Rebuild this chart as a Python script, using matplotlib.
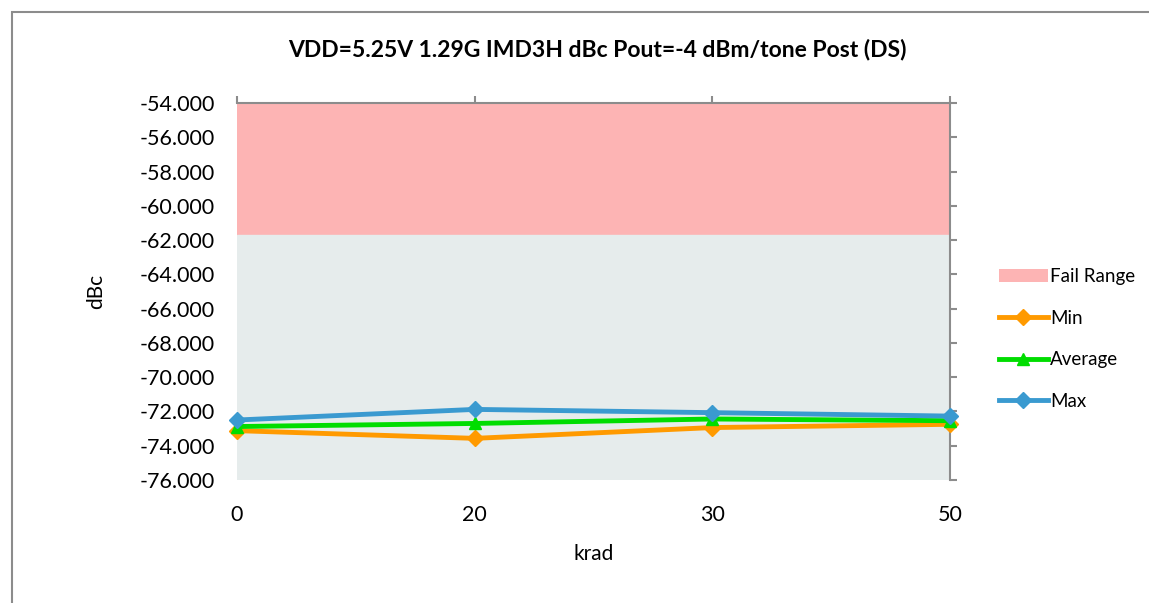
import matplotlib
matplotlib.use("Agg")
import matplotlib.pyplot as plt
from matplotlib.patches import Patch, Rectangle
from matplotlib.lines import Line2D
from matplotlib.ticker import FormatStrFormatter

plt.rcParams['font.family'] = ['Lato', 'DejaVu Sans']

krad = ["0", "20", "30", "50"]
min_vals = [-73.12, -73.57, -72.94, -72.75]
avg_vals = [-72.88, -72.70, -72.44, -72.54]
max_vals = [-72.50, -71.88, -72.07, -72.27]
fail_limit = -61.7
y_lo, y_hi = -76.0, -54.0

W, H = 1149, 603
fig = plt.figure(figsize=(W / 100, H / 100), dpi=100)
fig.patch.set_facecolor("white")

# outer chart frame
fig.add_artist(Rectangle((12 / W, -0.1), 1.2, 1 - 12 / H + 0.1,
                         transform=fig.transFigure, fill=False,
                         edgecolor="#8C8C8C", linewidth=1.5))

ax = fig.add_axes([237 / W, 1 - 480 / H, (950 - 237) / W, (480 - 103) / H])
x = list(range(len(krad)))

ax.axhspan(fail_limit, y_hi, color="#FDB4B4", zorder=0)
ax.axhspan(y_lo, fail_limit, color="#E6ECEC", zorder=0)

LW = 3.5
ax.plot(x, min_vals, color="#FF9A00", lw=LW, marker="D", ms=8, zorder=3, clip_on=False)
ax.plot(x, avg_vals, color="#00DD00", lw=LW, marker="^", ms=9, zorder=3, clip_on=False)
ax.plot(x, max_vals, color="#3A9AD0", lw=LW, marker="D", ms=8, zorder=4, clip_on=False)

ax.set_xlim(0, len(krad) - 1)
ax.set_ylim(y_lo, y_hi)
ax.set_xticks(x)
ax.set_xticklabels(krad)
ax.set_yticks([y_lo + 2 * i for i in range(12)])
ax.yaxis.set_major_formatter(FormatStrFormatter("%.3f"))

for s in ["left", "bottom"]:
    ax.spines[s].set_visible(False)
for s in ["top", "right"]:
    ax.spines[s].set_color("#8C8C8C")
    ax.spines[s].set_linewidth(1.5)

ax.tick_params(axis="both", which="both", left=False, bottom=False,
               right=True, top=True, labelleft=True, labelbottom=True,
               direction="out", length=5, width=1.5, color="#8C8C8C",
               labelsize=15.5, labelcolor="black")
ax.tick_params(axis="y", pad=11)
ax.tick_params(axis="x", pad=13)

ax.set_xlabel("krad", fontsize=15, labelpad=14)
ax.set_ylabel("dBc", fontsize=15, labelpad=24)

fig.text(597 / W, 1 - 50 / H, "VDD=5.25V 1.29G IMD3H dBc Pout=-4 dBm/tone Post (DS)",
         ha="center", va="center", fontsize=16.5, fontweight="bold")

handles = [
    Patch(facecolor="#FDB4B4", edgecolor="none"),
    Line2D([], [], color="#FF9A00", lw=LW, marker="D", ms=8),
    Line2D([], [], color="#00DD00", lw=LW, marker="^", ms=9),
    Line2D([], [], color="#3A9AD0", lw=LW, marker="D", ms=8),
]
fig.legend(handles, ["Fail Range", "Min", "Average", "Max"],
           loc="center left", bbox_to_anchor=(982 / W, 1 - 339 / H),
           frameon=False, fontsize=13.5, labelspacing=1.3,
           handlelength=2.6, handletextpad=0.15)

fig.savefig("out.png", dpi=100)
